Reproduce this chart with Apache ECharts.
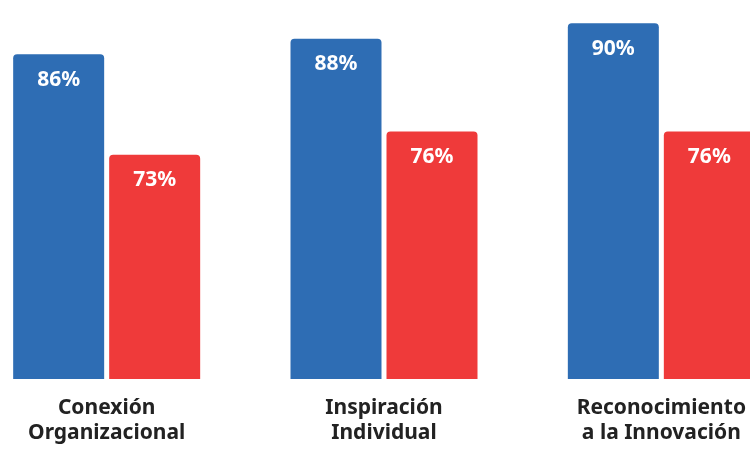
<!DOCTYPE html>
<html><head><meta charset="utf-8">
<script src="https://cdn.jsdelivr.net/npm/echarts@6/dist/echarts.min.js"></script>
<style>html,body{margin:0;padding:0;background:#fff;overflow:hidden;width:750px;height:449px}#c{width:832px;height:449px;margin-left:-32px}</style>
</head><body><div id="c"></div>
<script>
const categories = ['Conexión\nOrganizacional', 'Inspiración\nIndividual', 'Reconocimiento\na la Innovación'];
const seriesA = [86, 88, 90];
const seriesB = [73, 76, 76];

const chart = echarts.init(document.getElementById('c'), null, {renderer: 'canvas'});
const labelStyle = {
  show: true, position: 'insideTop', distance: 15,
  color: '#fff', fontFamily: 'Noto Sans', fontWeight: 'bold', fontSize: 21,
  formatter: p => p.value + '%'
};
chart.setOption({
  animation: false,
  grid: {left: 0, right: 0, top: 0, bottom: 70, containLabel: false},
  xAxis: {
    type: 'category', data: categories,
    axisLine: {show: false}, axisTick: {show: false},
    axisLabel: {
      margin: 17, color: '#222', fontFamily: 'Noto Sans', fontWeight: 'bold',
      fontSize: 21, lineHeight: 25, interval: 0
    }
  },
  yAxis: {type: 'value', min: 44, max: 93, show: false, splitLine: {show: false}},
  series: [
    {type: 'bar', data: seriesA, barWidth: 91, barGap: '5.5%',
     itemStyle: {color: '#2E6DB4', borderRadius: [4, 4, 0, 0]}, label: labelStyle},
    {type: 'bar', data: seriesB, barWidth: 91,
     itemStyle: {color: '#EF3A3A', borderRadius: [4, 4, 0, 0]}, label: labelStyle}
  ]
});
</script></body></html>
